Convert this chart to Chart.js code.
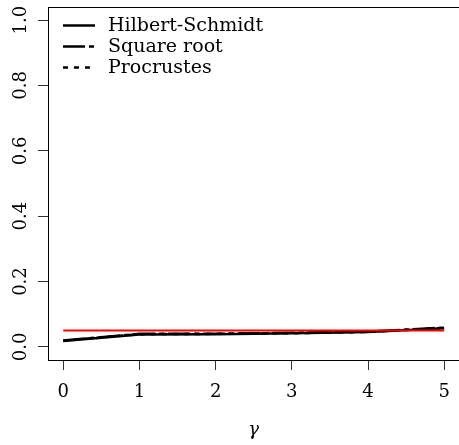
<!DOCTYPE html>
<html>
<head>
<meta charset="utf-8">
<script src="https://cdn.jsdelivr.net/npm/chart.js@4"></script>
<style>
  html, body { margin: 0; padding: 0; background: #fff; overflow: hidden; }
  #wrap { width: 462px; height: 445px; }
</style>
</head>
<body>
<div id="wrap"><canvas id="chart" width="462" height="445"></canvas></div>
<script>
// gamma grid + rejection rates
const gammas = [0, 1, 2, 3, 4, 5];
const hilbertSchmidt = [0.018, 0.038, 0.039, 0.042, 0.046, 0.057];
const squareRoot = [0.020, 0.040, 0.040, 0.043, 0.047, 0.059];
const procrustes = [0.019, 0.039, 0.040, 0.042, 0.046, 0.058];
const nominalLevel = [0.05, 0.05];
const nominalX = [0, 5];
const xTicks = [0, 1, 2, 3, 4, 5];
const yTicks = [0, 0.2, 0.4, 0.6, 0.8, 1.0];
const seriesNames = ['Hilbert-Schmidt', 'Square root', 'Procrustes'];

(function() {
    const $ = s => document.querySelector(s);
    const FONT = '"DejaVu Serif", "Liberation Serif", serif';
    const dashes = [[], [22, 4, 5, 4], [5, 6]];

    const toPts = (xs, ys) => xs.map((x, i) => ({ x: x, y: ys[i] }));

    const datasets = [
        { data: toPts(nominalX, nominalLevel), borderColor: '#ff0000', borderWidth: 2, order: 0 },
        { data: toPts(gammas, hilbertSchmidt), borderColor: '#000', borderWidth: 2.5, borderDash: dashes[0], order: 1 },
        { data: toPts(gammas, squareRoot), borderColor: '#000', borderWidth: 2.5, borderDash: dashes[1], order: 2 },
        { data: toPts(gammas, procrustes), borderColor: '#000', borderWidth: 2.5, borderDash: dashes[2], order: 3 }
    ].map(d => ({ ...d, pointRadius: 0, fill: false, tension: 0 }));

    // box, rotated y labels, R-style legend (bty="n")
    const frame = {
        id: 'frame',
        afterDraw(chart) {
            const { ctx, chartArea: a } = chart;
            const ys = chart.scales.y;
            ctx.save();
            ctx.strokeStyle = '#000';
            ctx.lineWidth = 1;
            ctx.strokeRect(a.left + 0.5, a.top + 0.5, a.right - a.left, a.bottom - a.top);

            ctx.font = '18px ' + FONT;
            ctx.fillStyle = '#000';

            // y tick labels, read bottom to top
            ctx.textAlign = 'center';
            ctx.textBaseline = 'alphabetic';
            yTicks.forEach(v => {
                ctx.save();
                ctx.translate(26, ys.getPixelForValue(v));
                ctx.rotate(-Math.PI / 2);
                ctx.fillText(v.toFixed(1), 0, 0);
                ctx.restore();
            });

            ctx.font = '19px ' + FONT;
            ctx.textAlign = 'left';
            ctx.textBaseline = 'middle';
            seriesNames.forEach((name, i) => {
                const y = 25.5 + i * 21;
                ctx.beginPath();
                ctx.setLineDash(dashes[i]);
                ctx.lineWidth = 2.5;
                ctx.moveTo(63, y);
                ctx.lineTo(95, y);
                ctx.stroke();
                ctx.setLineDash([]);
                ctx.fillText(name, 108, y + 1);
            });
            ctx.restore();
        }
    };

    const axisCommon = {
        type: 'linear',
        border: { display: true, color: '#000', width: 1 },
        grid: { display: true, drawOnChartArea: false, drawTicks: true, tickLength: 10, tickColor: '#333', tickWidth: 1 }
    };

    new Chart($('#chart'), {
        type: 'line',
        data: { datasets },
        plugins: [frame],
        options: {
            responsive: false,
            animation: false,
            layout: { padding: { top: 7, right: 2, left: 0, bottom: 0 } },
            plugins: { legend: { display: false }, tooltip: { enabled: false } },
            scales: {
                x: {
                    ...axisCommon,
                    min: -0.2, max: 5.2,
                    afterBuildTicks: s => { s.ticks = xTicks.map(v => ({ value: v })); },
                    afterFit: s => { s.height = 85; },
                    ticks: { color: '#000', font: { family: FONT, size: 18 }, padding: 12, maxRotation: 0, callback: v => String(v) },
                    title: { display: true, text: 'γ', color: '#000', font: { family: FONT, size: 18, style: 'italic' }, padding: { top: 10 } }
                },
                y: {
                    ...axisCommon,
                    min: -0.04, max: 1.04,
                    afterBuildTicks: s => { s.ticks = yTicks.map(v => ({ value: v })); },
                    afterFit: s => { s.width = 48; },
                    ticks: { display: false }
                }
            }
        }
    });
})();
</script>
</body>
</html>
